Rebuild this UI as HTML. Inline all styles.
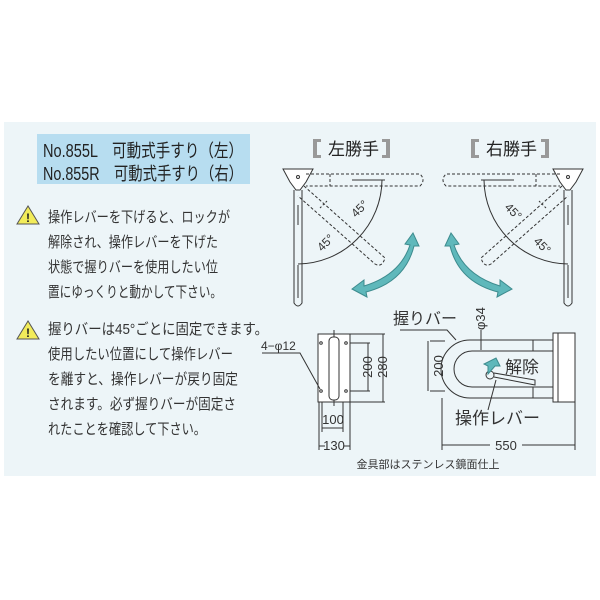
<!DOCTYPE html>
<html><head><meta charset="utf-8"><style>
body{margin:0;background:#fff;}
svg{display:block;font-family:"Liberation Sans","Noto Sans CJK JP",sans-serif;}
</style></head><body>
<svg width="600" height="600" viewBox="0 0 600 600">
<rect x="4" y="122" width="592" height="354" fill="#edf5f8"/>
<rect x="37" y="134" width="213" height="50" fill="#b7ddf0"/>
<text x="43" y="157" font-size="18" fill="#222" textLength="200" lengthAdjust="spacingAndGlyphs">No.855L　可動式手すり（左）</text>
<text x="43" y="180" font-size="18" fill="#222" textLength="200" lengthAdjust="spacingAndGlyphs">No.855R　可動式手すり（右）</text>
<g>
<polygon points="28,206 17,224 39,224" fill="#f2ec5a" stroke="#555" stroke-width="1"/>
<text x="28" y="222" font-size="12" text-anchor="middle" font-weight="bold" fill="#222">!</text>
<polygon points="28,321 17,339 39,339" fill="#f2ec5a" stroke="#555" stroke-width="1"/>
<text x="28" y="337" font-size="12" text-anchor="middle" font-weight="bold" fill="#222">!</text>
</g>
<g font-size="15" fill="#333" lengthAdjust="spacingAndGlyphs">
<text x="48" y="222" textLength="182" lengthAdjust="spacingAndGlyphs">操作レバーを下げると、ロックが</text>
<text x="48" y="247" textLength="170" lengthAdjust="spacingAndGlyphs">解除され、操作レバーを下げた</text>
<text x="48" y="272" textLength="170" lengthAdjust="spacingAndGlyphs">状態で握りバーを使用したい位</text>
<text x="48" y="297" textLength="174" lengthAdjust="spacingAndGlyphs">置にゆっくりと動かして下さい。</text>
<text x="48" y="334" textLength="220" lengthAdjust="spacingAndGlyphs">握りバーは45°ごとに固定できます。</text>
<text x="48" y="359" textLength="185" lengthAdjust="spacingAndGlyphs">使用したい位置にして操作レバー</text>
<text x="48" y="384" textLength="190" lengthAdjust="spacingAndGlyphs">を離すと、操作レバーが戻り固定</text>
<text x="48" y="409" textLength="188" lengthAdjust="spacingAndGlyphs">されます。必ず握りバーが固定さ</text>
<text x="48" y="434" textLength="158" lengthAdjust="spacingAndGlyphs">れたことを確認して下さい。</text>
</g>
<!-- headings -->
<g font-size="17" fill="#222">
<rect x="313" y="139" width="4" height="19" fill="#999"/><rect x="313" y="139" width="8" height="3" fill="#999"/><rect x="313" y="155" width="8" height="3" fill="#999"/>
<text x="328" y="155">左勝手</text>
<rect x="386" y="139" width="4" height="19" fill="#999"/><rect x="382" y="139" width="8" height="3" fill="#999"/><rect x="382" y="155" width="8" height="3" fill="#999"/>
<rect x="471" y="139" width="4" height="19" fill="#999"/><rect x="471" y="139" width="8" height="3" fill="#999"/><rect x="471" y="155" width="8" height="3" fill="#999"/>
<text x="486" y="155">右勝手</text>
<rect x="545" y="139" width="4" height="19" fill="#999"/><rect x="541" y="139" width="8" height="3" fill="#999"/><rect x="541" y="155" width="8" height="3" fill="#999"/>
</g>
<defs>
<g id="hand" fill="none" stroke="#333" stroke-width="1">
<path d="M283,169 L313,169 L306,182 L300,190 L296,190 L290,182 Z" fill="#fff"/>
<circle cx="298" cy="177" r="1.5"/>
<path d="M294,190 L294,303 Q298,309 302,303 L302,190"/>
<line x1="298" y1="205" x2="298" y2="225" />
<line x1="298" y1="265" x2="298" y2="298"/>
<path d="M306,174 L420,174 Q426,180 420,186 L306,186" stroke-dasharray="3,2"/>
<line x1="330" y1="174" x2="330" y2="186" stroke-dasharray="3,2"/>
<line x1="352" y1="180" x2="385" y2="180"/>
<path d="M304,186 L385,258 Q382,268 375,264 L298,196" stroke-dasharray="3,2"/>
<line x1="320" y1="208" x2="327" y2="201" stroke-dasharray="2,2"/>
<path d="M382,180 A85,85 0 0 1 298,264"/>
</g>
</defs>
<use href="#hand"/>
<g transform="translate(866,0) scale(-1,1)"><use href="#hand"/></g>
<g font-size="12" fill="#333">
<text x="322" y="252" transform="rotate(-45 322 252)">45°</text>
<text x="356" y="218" transform="rotate(-45 356 218)">45°</text>
<text x="504" y="208" transform="rotate(45 504 208)">45°</text>
<text x="533" y="242" transform="rotate(45 533 242)">45°</text>
</g>
<!-- teal arrows -->
<g fill="#5fb8bb" stroke="#3d8b8e" stroke-width="1">
<path d="M364,286 Q400,275 410,245 L405,244 L413,233 L419,246 L414,246 Q405,282 366,292 L367,297 L352,289 L364,280 Z"/>
<path d="M500,286 Q464,275 454,245 L459,244 L451,233 L445,246 L450,246 Q459,282 498,292 L497,297 L512,289 L500,280 Z"/>
</g>
<!-- left elevation -->
<g fill="none" stroke="#333" stroke-width="1">
<rect x="318" y="334" width="32" height="68" fill="#fff"/>
<rect x="329" y="337" width="10" height="63" rx="4"/>
<line x1="334" y1="330" x2="334" y2="337"/><line x1="334" y1="400" x2="334" y2="406"/>
<circle cx="321" cy="343" r="1.3"/><circle cx="346" cy="343" r="1.3"/><circle cx="321" cy="391" r="1.3"/><circle cx="346" cy="391" r="1.3"/>
<line x1="350" y1="343" x2="370" y2="343"/><line x1="350" y1="391" x2="370" y2="391"/><line x1="368" y1="343" x2="368" y2="391"/>
<line x1="350" y1="334" x2="385" y2="334"/><line x1="350" y1="402" x2="385" y2="402"/><line x1="383" y1="334" x2="383" y2="402"/>
<line x1="322" y1="402" x2="322" y2="432"/><line x1="343" y1="402" x2="343" y2="432"/><line x1="322" y1="428" x2="343" y2="428"/>
<line x1="319" y1="402" x2="319" y2="450"/><line x1="350" y1="402" x2="350" y2="450"/>
<line x1="319" y1="446" x2="325" y2="446"/><line x1="344" y1="446" x2="350" y2="446"/>
<polyline points="262,353 300,353 320,389"/>
</g>
<g font-size="13" fill="#333">
<text x="261" y="350" font-size="12">4−φ12</text>
<text x="372" y="367" transform="rotate(-90 372 367)" text-anchor="middle">200</text>
<text x="387" y="367" transform="rotate(-90 387 367)" text-anchor="middle">280</text>
<text x="333" y="424" text-anchor="middle">100</text>
<text x="334" y="450" text-anchor="middle">130</text>
</g>
<!-- right elevation -->
<g fill="none" stroke="#333" stroke-width="1">
<path d="M552,340 L470,340 A29,29 0 0 0 470,398 L552,398"/>
<path d="M552,351 L472,351 A18,18 0 0 0 472,387 L552,387"/>
<rect x="533" y="340" width="20" height="11"/><rect x="533" y="387" width="20" height="11"/>
<rect x="553" y="333" width="22" height="69" fill="#fff"/>
<line x1="558" y1="333" x2="558" y2="402"/>
<circle cx="490" cy="375" r="4"/>
<path d="M494,373 L535,380 L535,385 L494,377"/>
<line x1="430" y1="341" x2="445" y2="341"/><line x1="430" y1="391" x2="445" y2="391"/><line x1="428" y1="341" x2="428" y2="391"/>
<line x1="442" y1="398" x2="442" y2="450"/><line x1="575" y1="402" x2="575" y2="450"/>
<line x1="442" y1="445" x2="490" y2="445"/><line x1="522" y1="445" x2="575" y2="445"/>
<line x1="481" y1="330" x2="481" y2="350"/>
<polyline points="400,330 447,330 456,340"/>
<line x1="488" y1="410" x2="496" y2="380"/>
</g>
<path d="M496,358 L500,366 L495,366 L488,374 L488,366 L484,364 Z" fill="#5fb8bb" stroke="#3d8b8e"/>
<g fill="#333">
<text x="393" y="324" font-size="16">握りバー</text>
<text x="485" y="330" font-size="13" transform="rotate(-90 485 330)">φ34</text>
<text x="505" y="373" font-size="17">解除</text>
<text x="455" y="424" font-size="17">操作レバー</text>
<text x="433" y="376" font-size="13" transform="rotate(-90 433 366)" text-anchor="middle">200</text>
<text x="506" y="450" font-size="13" text-anchor="middle">550</text>
<text x="428" y="468" font-size="11" text-anchor="middle">金具部はステンレス鏡面仕上</text>
</g>
</svg>
</body></html>
